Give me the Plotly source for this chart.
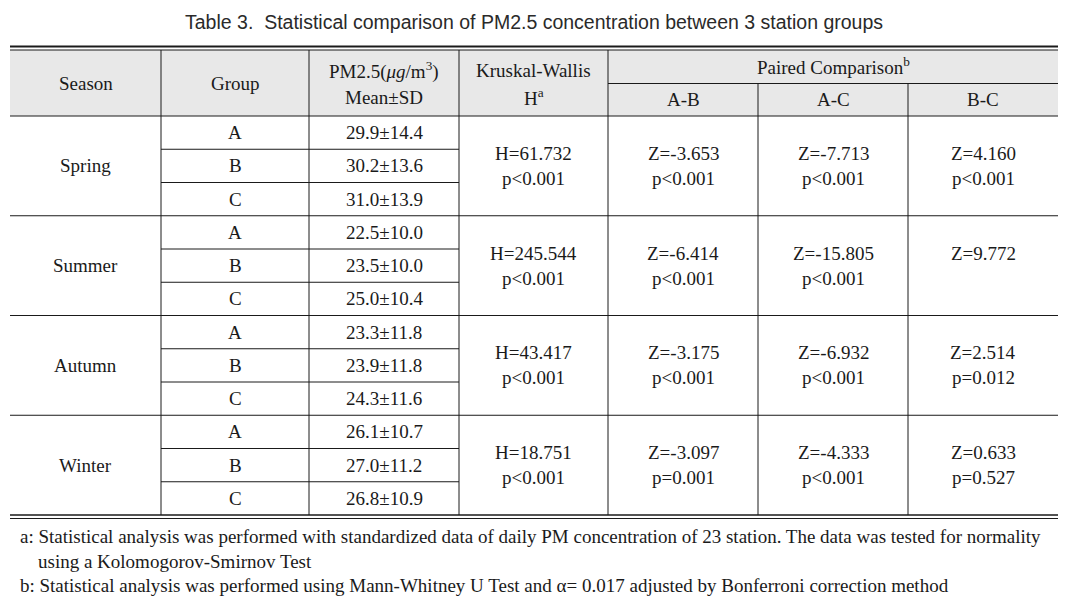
import plotly.graph_objects as go

# ---- data ----
title_text = "Table 3.  Statistical comparison of PM2.5 concentration between 3 station groups"
seasons = ["Spring", "Summer", "Autumn", "Winter"]
groups = ["A", "B", "C"]
means = [[29.9, 30.2, 31.0], [22.5, 23.5, 25.0], [23.3, 23.9, 24.3], [26.1, 27.0, 26.8]]
sds = [[14.4, 13.6, 13.9], [10.0, 10.0, 10.4], [11.8, 11.8, 11.6], [10.7, 11.2, 10.9]]
kw_h = [61.732, 245.544, 43.417, 18.751]
kw_p = ["p<0.001", "p<0.001", "p<0.001", "p<0.001"]
z_ab = [-3.653, -6.414, -3.175, -3.097]
p_ab = ["p<0.001", "p<0.001", "p<0.001", "p=0.001"]
z_ac = [-7.713, -15.805, -6.932, -4.333]
p_ac = ["p<0.001", "p<0.001", "p<0.001", "p<0.001"]
z_bc = [4.160, 9.772, 2.514, 0.633]
p_bc = ["p<0.001", "", "p=0.012", "p=0.527"]
footnotes = [
    "a: Statistical analysis was performed with standardized data of daily PM concentration of 23 station. The data was tested for normality",
    "using a Kolomogorov-Smirnov Test",
    "b: Statistical analysis was performed using Mann-Whitney U Test and α= 0.017 adjusted by Bonferroni correction method",
]

# ---- layout constants ----
W, H = 1067, 606
col_x = [10, 161, 309, 459, 608, 758, 908, 1058]
y_top1, y_top2 = 46.5, 50
y_sub = 83.5
y_head_bot = 116
row_h = 33.25
y_bot1, y_bot2 = 515, 518.5
serif = "Liberation Serif, Times New Roman, serif"
sans = "Liberation Sans, Arial, sans-serif"
ink = "#1a1a1a"
fs = 19

fig = go.Figure()
shapes = []
ann = []

def line(x0, y0, x1, y1, w=1.0):
    shapes.append(dict(type="line", x0=x0, y0=y0, x1=x1, y1=y1, xref="x", yref="y",
                       line=dict(color=ink, width=w)))

def text(x, y, t, size=fs, font=serif, anchor="center", color=ink):
    ann.append(dict(x=x, y=y, xref="x", yref="y", text=t, showarrow=False,
                    xanchor=anchor, yanchor="middle",
                    font=dict(family=font, size=size, color=color)))

# header background
shapes.append(dict(type="rect", x0=col_x[0], x1=col_x[-1], y0=y_top2, y1=y_head_bot,
                   xref="x", yref="y", fillcolor="#e8e8e8", line=dict(width=0), layer="below"))

# top / bottom rules
line(col_x[0], y_top1, col_x[-1], y_top1, 2)
line(col_x[0], y_top2, col_x[-1], y_top2, 1)
line(col_x[0], y_bot1, col_x[-1], y_bot1, 1.5)
line(col_x[0], y_bot2, col_x[-1], y_bot2, 1)
line(col_x[4], y_sub, col_x[-1], y_sub, 1)
line(col_x[0], y_head_bot, col_x[-1], y_head_bot, 1)

# vertical lines
for i, cxv in enumerate(col_x[1:-1], start=1):
    y0 = y_sub if i >= 5 else y_top2
    line(cxv, y0, cxv, y_bot1, 1)

def cx(i):
    return (col_x[i] + col_x[i + 1]) / 2

# header text
yh = (y_top2 + y_head_bot) / 2
text(cx(0), yh, "Season")
text(cx(1), yh, "Group")
text(cx(2), 70, "PM2.5(<i>μg</i>/m<sup>3</sup>)")
text(cx(2), 97, "Mean±SD")
text(cx(3), 70, "Kruskal-Wallis")
text(cx(3), 97, "H<sup>a</sup>")
text((col_x[4] + col_x[-1]) / 2, 66, "Paired Comparison<sup>b</sup>")
for i, lab in zip([4, 5, 6], ["A-B", "A-C", "B-C"]):
    text(cx(i), 99.5, lab)

# body
for s, season in enumerate(seasons):
    y0 = y_head_bot + s * 3 * row_h
    yc = y0 + 1.5 * row_h
    if s > 0:
        line(col_x[0], y0, col_x[-1], y0, 1)
    text(cx(0), yc, season)
    for g, grp in enumerate(groups):
        yr = y0 + (g + 0.5) * row_h
        if g > 0:
            line(col_x[1], y0 + g * row_h, col_x[3], y0 + g * row_h, 1)
        text(cx(1), yr, grp)
        text(cx(2), yr, f"{means[s][g]:.1f}±{sds[s][g]:.1f}")
    text(cx(3), yc - 12.5, f"H={kw_h[s]:.3f}")
    text(cx(3), yc + 12.5, kw_p[s])
    for i, zs, ps in [(4, z_ab, p_ab), (5, z_ac, p_ac), (6, z_bc, p_bc)]:
        text(cx(i), yc - 12.5, f"Z={zs[s]:.3f}")
        if ps[s]:
            text(cx(i), yc + 12.5, ps[s])

# title
text(W / 2, 22, title_text, size=19.5, font=sans, color="#2a2a2a")

# footnotes
for k, (fy, ft) in enumerate(zip([536, 561, 585], footnotes)):
    fx = 36 if k == 1 else 18
    text(fx, fy, ft, anchor="left", size=19)

fig.update_layout(
    width=W, height=H, margin=dict(l=0, r=0, t=0, b=0),
    paper_bgcolor="white", plot_bgcolor="white",
    xaxis=dict(range=[0, W], visible=False, fixedrange=True),
    yaxis=dict(range=[H, 0], visible=False, fixedrange=True),
    shapes=shapes, annotations=ann, showlegend=False,
)
fig.write_html("out.html", post_script="document.body.style.margin='0';",
               config={"displayModeBar": False})
